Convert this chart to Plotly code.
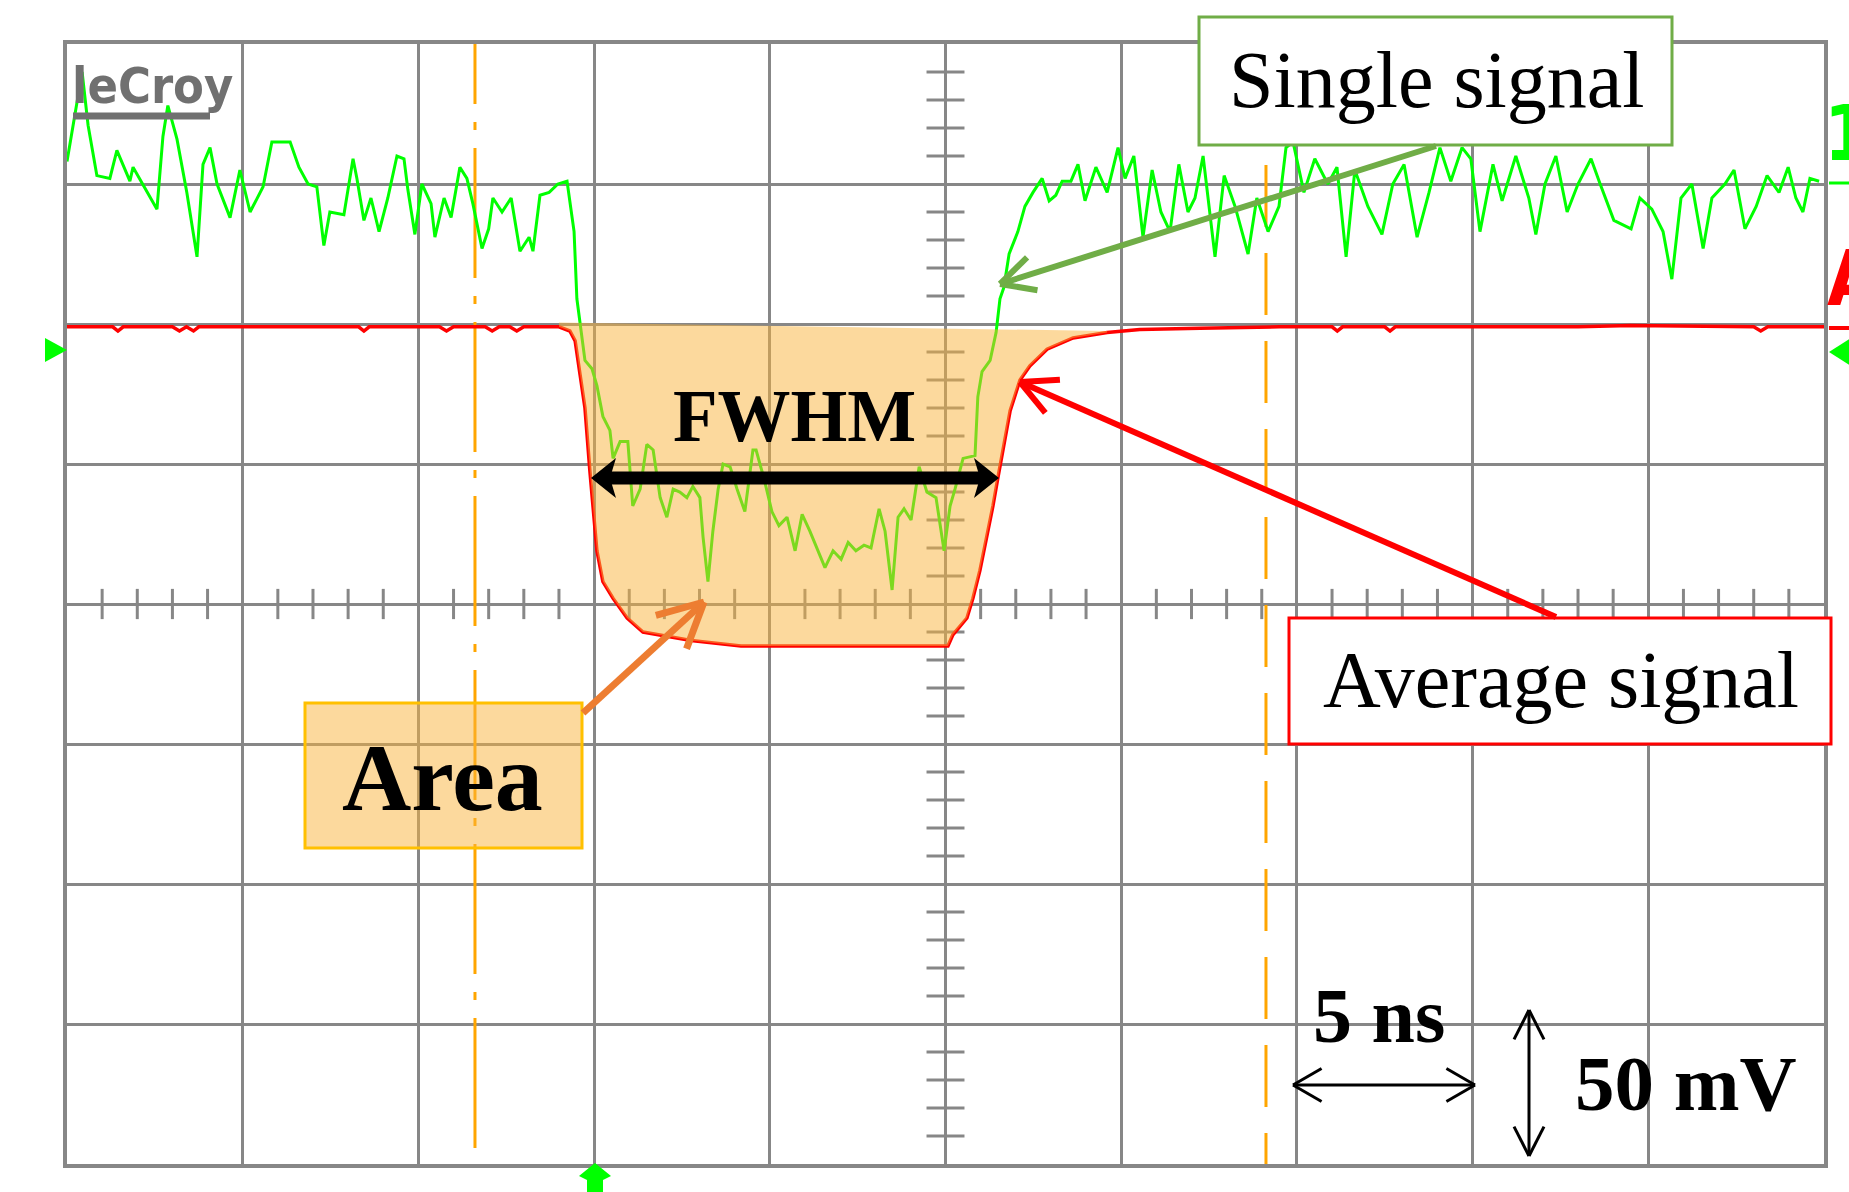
import math
import plotly.graph_objects as go

# ---------------- data (time in ns, voltage in mV) ----------------
green_t = [0.0, 0.43, 0.6, 0.85, 1.22, 1.42, 1.79, 1.88, 2.56, 2.73, 2.87, 3.13, 3.41, 3.70, 3.87, 4.07,
           4.27, 4.64, 4.92, 5.21, 5.58, 5.83, 6.35, 6.6, 6.86, 7.11, 7.31, 7.48, 7.88, 8.14, 8.25, 8.45,
           8.65, 8.88, 9.13, 9.39, 9.59, 9.7, 9.9, 10.1, 10.36, 10.47, 10.73, 10.93, 11.18, 11.38, 11.55,
           11.81, 12.0, 12.12, 12.38, 12.64, 12.89, 13.15, 13.26, 13.46, 13.72, 13.97, 14.23, 14.43, 14.51,
           14.74, 14.94, 15.08, 15.25, 15.45, 15.54, 15.74, 15.96, 16.1, 16.31, 16.5, 16.68, 16.88, 17.07,
           17.25, 17.44, 17.64, 17.81, 18.01, 18.1, 18.24, 18.38, 18.53, 18.67, 18.87, 19.07, 19.29, 19.52,
           19.61, 19.83, 20.06, 20.26, 20.49, 20.72, 20.92, 21.14, 21.37, 21.57, 21.8, 22.03, 22.23, 22.45,
           22.68, 22.88, 23.11, 23.28, 23.48, 23.65, 23.82, 24.02, 24.25, 24.47, 24.73, 24.96, 25.13, 25.27,
           25.5, 25.84, 25.92, 26.04, 26.27, 26.44, 26.55, 26.66, 26.81, 27.06, 27.26, 27.49, 27.75, 27.95,
           28.14, 28.32, 28.57, 28.77, 28.97, 29.28, 29.6, 29.91, 30.11, 30.36, 30.62, 30.88, 31.13, 31.39,
           31.64, 31.9, 32.1, 32.33, 32.67, 32.93, 33.24, 33.61, 33.86, 34.18, 34.49, 34.69, 34.89, 35.2,
           35.51, 35.88, 36.14, 36.4, 36.65, 37.02, 37.42, 37.73, 38.05, 38.42, 38.76, 39.07, 39.38, 39.7,
           39.95, 40.21, 40.58, 40.84, 41.23, 41.6, 41.8, 42.06, 42.37, 42.69, 43.0, 43.37, 43.63, 44.02,
           44.51, 44.76, 45.1, 45.42, 45.67, 45.93, 46.24, 46.56, 46.81, 47.18, 47.44, 47.75, 48.07, 48.38,
           48.72, 48.98, 49.2, 49.4, 49.6, 49.86]
green_mv = [158, 190, 171, 153, 152, 162, 151, 156, 141, 167, 178, 166, 147, 124, 157, 163,
            150, 138, 155, 140, 149, 165, 165, 156, 150, 149, 128, 140, 139, 159, 152, 137,
            145, 133, 145, 160, 159, 148, 132, 150, 143, 131, 145, 138, 156, 152, 143,
            127, 134, 145, 140, 145, 126, 131, 126, 146, 147, 150, 151, 133, 109,
            87, 84, 78, 67, 62, 52, 58, 58, 35, 41, 57, 55, 38, 31,
            41, 40, 38, 42, 38, 24, 8, 26, 41, 50, 49, 41, 33, 55,
            55, 45, 33, 28, 31, 19, 32, 26, 19, 13, 19, 16, 22, 19,
            21, 20, 34, 26, 5, 31, 34, 30, 49, 40, 38, 19, 35, 41,
            52, 53, 74, 83, 87, 97, 109, 113, 125, 133, 142, 147, 152, 144,
            146, 151, 151, 157, 144, 156, 147, 163, 152, 160, 131, 155, 140, 133,
            157, 140, 145, 160, 124, 153, 142, 125, 145, 133, 142, 163, 165, 147,
            159, 150, 156, 124, 155, 142, 132, 150, 157, 131, 147, 163, 151, 163,
            159, 133, 157, 144, 160, 145, 132, 150, 160, 140, 150, 159, 150, 137,
            134, 145, 141, 133, 116, 145, 150, 127, 145, 150, 155, 134, 142, 153,
            147, 156, 145, 140, 152, 151]

red_t = [0.0, 1.3, 1.45, 1.6, 3.0, 3.2, 3.4, 3.6, 3.75, 3.9, 8.3, 8.45, 8.6, 10.6, 10.8, 11.0,
         11.9, 12.1, 12.3, 12.6, 12.8, 13.0, 14.0, 14.31, 14.46, 14.6, 14.74, 14.88, 14.97, 15.08,
         15.25, 15.54, 15.94, 16.39, 17.76, 19.18, 25.07, 25.21, 25.61, 25.78, 25.98, 26.18, 26.35,
         26.49, 26.64, 26.84, 27.12, 27.4, 27.89, 28.63, 29.6, 30.53, 32.24, 34.5, 36.0, 36.15, 36.3,
         37.5, 37.65, 37.8, 43.0, 44.5, 48.0, 48.2, 48.4, 50.0]
red_mv = [99, 99, 97.5, 99, 99, 97.5, 99, 97.5, 99, 99, 99, 97.5, 99, 99, 97.5, 99,
          99, 97.5, 99, 99, 97.5, 99, 99, 97.5, 94, 82, 70, 47.5, 35, 19,
          8, 2, -5, -10, -13, -15, -15, -11, -5, 2, 12, 24, 35,
          45, 55, 69, 80, 85, 91, 95, 97, 98, 98.5, 99, 99, 97.5, 99,
          99, 97.5, 99, 99, 99.5, 99, 97.5, 99, 99]

# filled "Area" region closes along the top of the average pulse
area_start_t, area_end_t = 14.0, 29.6
area_top_t = [29.6, 14.0]
area_top_mv = [97.5, 100.5]

cursor_t = [11.61, 34.12]          # two orange cursors
x_range = [0, 50]                  # 10 div x 5 ns
y_range = [-200, 200]              # 8 div x 50 mV

# ---------------- geometry helpers (layout decoration only) ----------------
W, H = 1849, 1192
ML, MR, MT, MB = 67, 25, 44, 28
PW, PH = W - ML - MR, H - MT - MB


def px(X):
    return (X - ML) / PW


def py(Y):
    return (H - MB - Y) / PH


GRID = '#878787'
SERIF = 'Liberation Serif'


def seg(X0, Y0, X1, Y1, color, width):
    return dict(type='line', xref='paper', yref='paper', layer='above',
                x0=px(X0), y0=py(Y0), x1=px(X1), y1=py(Y1),
                line=dict(color=color, width=width))


def chevron(Xt, Yt, Xs, Ys, length, ang, color, width):
    dx, dy = Xs - Xt, Ys - Yt
    n = math.hypot(dx, dy)
    ux, uy = dx / n, dy / n
    out = []
    for s in (1, -1):
        a = math.radians(ang * s)
        rx = ux * math.cos(a) - uy * math.sin(a)
        ry = ux * math.sin(a) + uy * math.cos(a)
        out.append(seg(Xt, Yt, Xt + length * rx, Yt + length * ry, color, width))
    return out


def arrow(Xs, Ys, Xt, Yt, length, ang, color, width):
    return [seg(Xs, Ys, Xt, Yt, color, width)] + chevron(Xt, Yt, Xs, Ys, length, ang, color, width)


def poly(points, color, layer='above'):
    d = 'M ' + ' L '.join(f'{px(X):.5f},{py(Y):.5f}' for X, Y in points) + ' Z'
    return dict(type='path', xref='paper', yref='paper', path=d, layer=layer,
                fillcolor=color, line=dict(color=color, width=0))


def rect(X0, Y0, X1, Y1, edge, fill, width=3):
    return dict(type='rect', xref='paper', yref='paper', layer='above',
                x0=px(X0), y0=py(Y0), x1=px(X1), y1=py(Y1),
                line=dict(color=edge, width=width), fillcolor=fill)


def label(text, X, Y, size, color='black', family=SERIF, xanchor='center'):
    return dict(text=text, x=px(X), y=py(Y), xref='paper', yref='paper', showarrow=False,
                xanchor=xanchor, yanchor='middle', font=dict(family=family, size=size, color=color))


# ---------------- figure ----------------
fig = go.Figure()

fig.add_trace(go.Scatter(x=[cursor_t[0], cursor_t[0]], y=[225, y_range[0]], mode='lines',
                         line=dict(color='#FFA500', width=3, dash='130px,18px,8px,18px'), hoverinfo='skip'))
fig.add_trace(go.Scatter(x=[cursor_t[1], cursor_t[1]], y=[219.6, y_range[0]], mode='lines',
                         line=dict(color='#FFA500', width=3, dash='62px,26px'), hoverinfo='skip'))

fig.add_trace(go.Scatter(x=red_t, y=red_mv, mode='lines', line=dict(color='#FF0000', width=3.5),
                         name='Average signal'))
fig.add_trace(go.Scatter(x=green_t, y=green_mv, mode='lines', line=dict(color='#00FF00', width=3),
                         name='Single signal'))

sel = [i for i, t in enumerate(red_t) if area_start_t <= t <= area_end_t]
poly_t = [red_t[i] for i in sel] + area_top_t
poly_mv = [red_mv[i] for i in sel] + area_top_mv
fig.add_trace(go.Scatter(x=poly_t, y=poly_mv, mode='lines', fill='toself',
                         fillcolor='rgba(250,180,60,0.5)', line=dict(width=0), hoverinfo='skip'))

shapes = []
# minor ticks on the centre cross
for k in range(1, 50):
    if k % 5:
        shapes.append(dict(type='line', xref='x', yref='y', layer='between', x0=k, x1=k, y0=-5.4, y1=5.4,
                           line=dict(color=GRID, width=3)))
for k in range(-19, 20):
    if k % 5:
        shapes.append(dict(type='line', xref='x', yref='y', layer='between', x0=24.46, x1=25.54,
                           y0=k * 10, y1=k * 10, line=dict(color=GRID, width=3)))

# boxes
shapes.append(rect(1199, 17, 1672, 145, '#70AD47', 'white'))
shapes.append(rect(1289, 618, 1831, 744, '#FF0000', 'white'))
shapes.append(rect(305, 703, 582, 848, '#FFC000', 'rgba(250,180,60,0.5)'))

# arrows
shapes += arrow(1436, 146, 1000, 284, 38, 27, '#70AD47', 6)
shapes += arrow(1556, 617, 1020, 382, 40, 27, '#FF0000', 6)
shapes += arrow(583, 713, 704, 602, 50, 27, '#ED7D31', 7)

# FWHM double arrow
shapes.append(seg(606, 478, 984, 478, 'black', 13))
shapes.append(poly([(591, 478), (616, 458), (610, 478), (616, 498)], 'black'))
shapes.append(poly([(999, 478), (974, 458), (980, 478), (974, 498)], 'black'))

# scale arrows
shapes.append(seg(1293, 1085, 1475, 1085, 'black', 3))
shapes += chevron(1293, 1085, 1475, 1085, 33, 30, 'black', 3)
shapes += chevron(1475, 1085, 1293, 1085, 33, 30, 'black', 3)
shapes.append(seg(1529, 1010, 1529, 1156, 'black', 3))
shapes += chevron(1529, 1010, 1529, 1156, 33, 27, 'black', 3)
shapes += chevron(1529, 1156, 1529, 1010, 33, 27, 'black', 3)

# scope markers
shapes.append(poly([(67, 350), (45, 338), (45, 362)], '#00FF00'))
shapes.append(poly([(1829, 352), (1851, 338), (1851, 366)], '#00FF00'))
shapes.append(poly([(595, 1163), (611, 1176), (603, 1180), (603, 1194), (587, 1194), (587, 1180), (579, 1176)],
                   '#00FF00'))
shapes.append(seg(1829, 183, 1851, 183, '#00FF00', 3))
shapes.append(seg(1829, 328, 1851, 328, '#FF0000', 4))

# leCroy underline
shapes.append(seg(73, 116, 210, 116, '#707070', 7))

annotations = [
    label('Single signal', 1437, 80, 80),
    label('Average signal', 1561, 680, 80),
    label('<b>FWHM</b>', 794, 416, 73),
    label('<b>Area</b>', 442, 777, 96),
    label('<b>5 ns</b>', 1379, 1015, 78),
    label('<b>50 mV</b>', 1686, 1083, 79),
    label('<b>leCroy</b>', 70, 86, 50, color='#707070', family='DejaVu Sans Condensed', xanchor='left'),
    label('<b>1</b>', 1822, 133, 76, color='#00FF00', family='DejaVu Sans Condensed', xanchor='left'),
    label('<b>A</b>', 1825, 278, 76, color='#FF0000', family='DejaVu Sans Condensed', xanchor='left'),
]

axis_common = dict(showgrid=True, gridcolor=GRID, gridwidth=3, showline=True, mirror=True,
                   linecolor=GRID, linewidth=4, showticklabels=False, ticks='', zeroline=False,
                   fixedrange=True)

fig.update_layout(
    width=W, height=H, margin=dict(l=ML, r=MR, t=MT, b=MB),
    paper_bgcolor='white', plot_bgcolor='white', showlegend=False,
    xaxis=dict(range=x_range, dtick=5, tick0=0, **axis_common),
    yaxis=dict(range=y_range, dtick=50, tick0=0, **axis_common),
    shapes=shapes, annotations=annotations,
)

fig.write_html('out.html')
